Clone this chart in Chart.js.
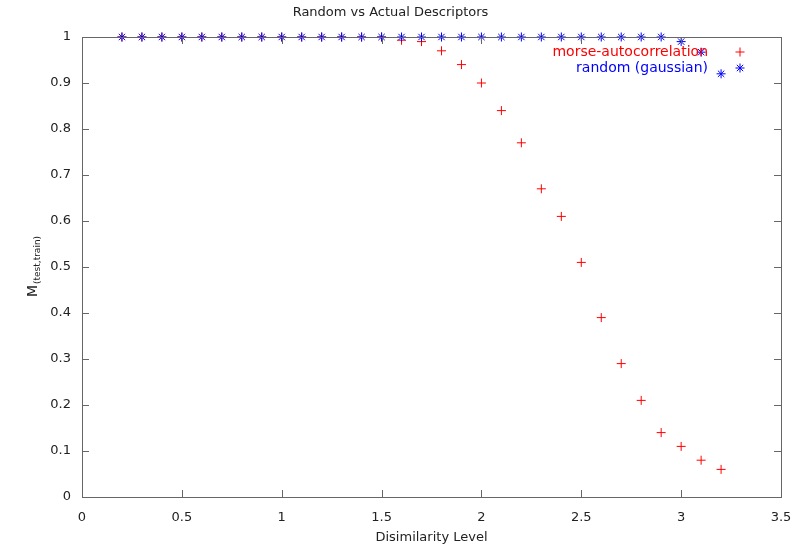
<!DOCTYPE html>
<html>
<head>
<meta charset="utf-8">
<script src="https://cdn.jsdelivr.net/npm/chart.js@4/dist/chart.umd.min.js"></script>
<style>
	html, body { margin: 0; padding: 0; background: #fff; }
	#wrap { width: 806px; height: 546px; }
</style>
</head>
<body>
<div id="wrap"><canvas id="chart" width="806" height="546"></canvas></div>
<script>
// levels on the x axis
const morse_x = [0.2, 0.3, 0.4, 0.5, 0.6, 0.7, 0.8, 0.9, 1.0, 1.1, 1.2, 1.3, 1.4, 1.5,
	1.6, 1.7, 1.8, 1.9, 2.0, 2.1, 2.2, 2.3, 2.4, 2.5, 2.6, 2.7, 2.8, 2.9, 3.0, 3.1, 3.2];
const morse_y = [1, 1, 1, 1, 1, 1, 1, 1, 1, 1, 1, 1, 1, 1,
	0.993, 0.99, 0.97, 0.94, 0.90, 0.84, 0.77, 0.67, 0.61, 0.51, 0.39, 0.29, 0.21, 0.14, 0.11, 0.08, 0.06];
const random_x = [0.2, 0.3, 0.4, 0.5, 0.6, 0.7, 0.8, 0.9, 1.0, 1.1, 1.2, 1.3, 1.4, 1.5,
	1.6, 1.7, 1.8, 1.9, 2.0, 2.1, 2.2, 2.3, 2.4, 2.5, 2.6, 2.7, 2.8, 2.9, 3.0, 3.1, 3.2];
const random_y = [1, 1, 1, 1, 1, 1, 1, 1, 1, 1, 1, 1, 1, 1,
	1, 1, 1, 1, 1, 1, 1, 1, 1, 1, 1, 1, 1, 1, 0.99, 0.967, 0.92];
const x_ticks = [0, 0.5, 1, 1.5, 2, 2.5, 3, 3.5];
const y_ticks = [0, 0.1, 0.2, 0.3, 0.4, 0.5, 0.6, 0.7, 0.8, 0.9, 1];
const series_names = ['morse-autocorrelation', 'random (gaussian)'];

const font_family = '"DejaVu Sans", Verdana, sans-serif';
const text_color = '#222';
const axis_color = '#666';

function to_points(xs, ys) {
	return xs.map((x, i) => ({ x: x, y: ys[i] }));
}

function tick_label(v) {
	return String(+Number(v).toFixed(1));
}

// gnuplot style: box all round, ticks pointing inwards on every side
const frame_plugin = {
	id: 'frame',
	afterDatasetsDraw(chart) {
		const ctx = chart.ctx;
		const a = chart.chartArea;
		const xs = chart.scales.x, ys = chart.scales.y;
		const len = 7;
		ctx.save();
		ctx.strokeStyle = axis_color;
		ctx.lineWidth = 1;
		ctx.strokeRect(Math.round(a.left) + 0.5, Math.round(a.top) + 0.5,
			Math.round(a.right - a.left), Math.round(a.bottom - a.top));
		ctx.beginPath();
		x_ticks.forEach(v => {
			const px = Math.round(xs.getPixelForValue(v)) + 0.5;
			ctx.moveTo(px, a.bottom); ctx.lineTo(px, a.bottom - len);
			ctx.moveTo(px, a.top); ctx.lineTo(px, a.top + len);
		});
		y_ticks.forEach(v => {
			const py = Math.round(ys.getPixelForValue(v)) + 0.5;
			ctx.moveTo(a.left, py); ctx.lineTo(a.left + len, py);
			ctx.moveTo(a.right, py); ctx.lineTo(a.right - len, py);
		});
		ctx.stroke();
		ctx.restore();
	},
	afterDraw(chart) {
		const ctx = chart.ctx;
		const a = chart.chartArea;
		ctx.save();
		// y axis title with subscript
		ctx.translate(33, (a.top + a.bottom) / 2);
		ctx.rotate(-Math.PI / 2);
		ctx.fillStyle = text_color;
		ctx.textBaseline = 'middle';
		ctx.font = '14px ' + font_family;
		const main = 'M';
		const sub = '(test,train)';
		const mw = ctx.measureText(main).width;
		ctx.font = '9px ' + font_family;
		const sw = ctx.measureText(sub).width;
		const start = -(mw + sw) / 2;
		ctx.font = '14px ' + font_family;
		ctx.textAlign = 'left';
		ctx.fillText(main, start, 0);
		ctx.font = '9px ' + font_family;
		ctx.fillText(sub, start + mw + 1, 5);
		ctx.restore();

		// key in the top right corner
		ctx.save();
		ctx.font = '14px ' + font_family;
		ctx.textAlign = 'right';
		ctx.textBaseline = 'middle';
		chart.data.datasets.forEach((ds, i) => {
			const y = 52 + i * 16;
			ctx.fillStyle = ds.borderColor;
			ctx.strokeStyle = ds.borderColor;
			ctx.lineWidth = ds.borderWidth;
			ctx.fillText(ds.label, 708, y);
			Chart.helpers.drawPoint(ctx, {
				pointStyle: ds.pointStyle,
				radius: ds.pointRadius,
				borderWidth: ds.borderWidth
			}, 740, y);
		});
		ctx.restore();
	}
};

new Chart(document.getElementById('chart'), {
	type: 'scatter',
	data: {
		datasets: [
			{
				label: series_names[0],
				data: to_points(morse_x, morse_y),
				pointStyle: 'cross',
				pointRadius: 4.5,
				borderWidth: 1,
				borderColor: '#ff0000',
				backgroundColor: '#ff0000',
				order: 2
			},
			{
				label: series_names[1],
				data: to_points(random_x, random_y),
				pointStyle: 'star',
				pointRadius: 4.5,
				borderWidth: 1,
				borderColor: '#0000ff',
				backgroundColor: '#0000ff',
				order: 1
			}
		]
	},
	options: {
		responsive: false,
		animation: false,
		clip: false,
		layout: { padding: { left: 0, right: 25, top: 0, bottom: 0 } },
		plugins: {
			legend: { display: false },
			tooltip: { enabled: false },
			title: {
				display: true,
				text: 'Random vs Actual Descriptors',
				color: text_color,
				font: { family: font_family, size: 13, weight: 'normal' },
				padding: { top: 5, bottom: 16.4 }
			}
		},
		scales: {
			x: {
				type: 'linear',
				min: 0,
				max: 3.5,
				afterFit(scale) { scale.height = 49; },
				afterBuildTicks(scale) { scale.ticks = x_ticks.map(v => ({ value: v })); },
				grid: { display: false, drawTicks: false },
				border: { display: false },
				ticks: {
					color: text_color,
					padding: 13,
					callback: tick_label,
					font: { family: font_family, size: 13 }
				},
				title: {
					display: true,
					text: 'Disimilarity Level',
					color: text_color,
					padding: { top: 0, bottom: 1 },
					font: { family: font_family, size: 13 }
				}
			},
			y: {
				type: 'linear',
				min: 0,
				max: 1,
				afterFit(scale) { scale.width = 82; },
				afterBuildTicks(scale) { scale.ticks = y_ticks.map(v => ({ value: v })); },
				grid: { display: false, drawTicks: false },
				border: { display: false },
				ticks: {
					color: text_color,
					padding: 11,
					callback: tick_label,
					font: { family: font_family, size: 13 }
				}
			}
		}
	},
	plugins: [frame_plugin]
});
</script>
</body>
</html>
